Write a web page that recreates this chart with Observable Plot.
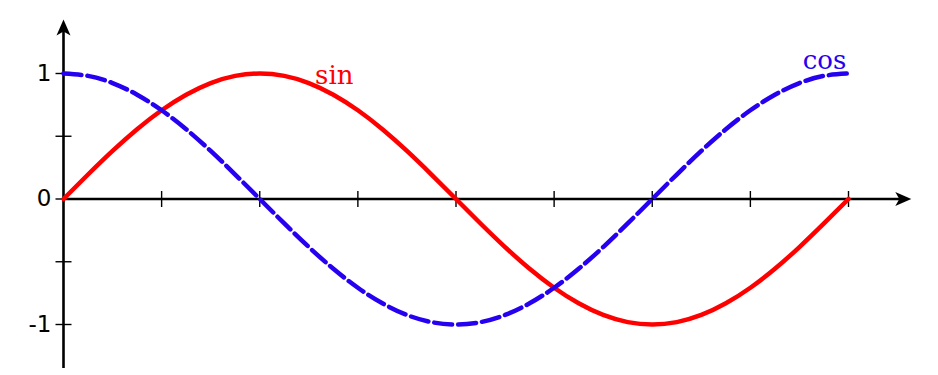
<!DOCTYPE html>
<html>
<head>
<meta charset="utf-8">
<script src="https://cdn.jsdelivr.net/npm/d3@7"></script>
<script src="https://cdn.jsdelivr.net/npm/@observablehq/plot@0.6"></script>
<style>
  html, body { margin: 0; padding: 0; background: #fff; }
</style>
</head>
<body>
<div id="chart"></div>
<script>
// x in units of quarter periods (π/4), sampled every π/16
const xs = [0,0.25,0.5,0.75,1,1.25,1.5,1.75,2,2.25,2.5,2.75,3,3.25,3.5,3.75,4,
            4.25,4.5,4.75,5,5.25,5.5,5.75,6,6.25,6.5,6.75,7,7.25,7.5,7.75,8];
const sinValues = [0,0.195,0.383,0.556,0.707,0.831,0.924,0.981,1,0.981,0.924,0.831,0.707,0.556,0.383,0.195,0,
                   -0.195,-0.383,-0.556,-0.707,-0.831,-0.924,-0.981,-1,-0.981,-0.924,-0.831,-0.707,-0.556,-0.383,-0.195,0];
const cosValues = [1,0.981,0.924,0.831,0.707,0.556,0.383,0.195,0,-0.195,-0.383,-0.556,-0.707,-0.831,-0.924,-0.981,-1,
                   -0.981,-0.924,-0.831,-0.707,-0.556,-0.383,-0.195,0,0.195,0.383,0.556,0.707,0.831,0.924,0.981,1];
const xTicks = [1,2,3,4,5,6,7,8];
const yTicks = [-1,-0.5,0,0.5,1];
const yLabels = [-1,0,1];
const yLabelText = ["-1","0","1"];
const seriesLabels = ["sin","cos"];

const sinData = xs.map((x, i) => ({x, y: sinValues[i]}));
const cosData = xs.map((x, i) => ({x, y: cosValues[i]}));

// custom symbols
const stealthUp = { draw(ctx) { ctx.moveTo(0,0); ctx.lineTo(7,16); ctx.lineTo(0,12); ctx.lineTo(-7,16); ctx.closePath(); } };
const vTick = { draw(ctx) { ctx.moveTo(0,-8); ctx.lineTo(0,8); } };
const hTick = { draw(ctx) { ctx.moveTo(-8,0); ctx.lineTo(8,0); } };

const xAxisEnd = 8.64, yAxisTop = 1.43, yAxisBottom = -1.35;

const chart = Plot.plot({
  width: 938,
  height: 375,
  margin: 0,
  style: {fontSize: "24px"},
  x: {domain: [0, 8], range: [63, 848], axis: null},
  y: {domain: [-1, 1], range: [324, 73], axis: null},
  marks: [
    Plot.ruleY([0], {x1: 0, x2: xAxisEnd - 0.06, stroke: "black", strokeWidth: 2.6}),
    Plot.ruleX([0], {y1: yAxisBottom, y2: yAxisTop - 0.04, stroke: "black", strokeWidth: 2.6}),
    Plot.dot([0], {x: xAxisEnd, y: 0, symbol: stealthUp, rotate: 90, fill: "black", stroke: "none"}),
    Plot.dot([0], {x: 0, y: yAxisTop, symbol: stealthUp, fill: "black", stroke: "none"}),
    Plot.dot(xTicks, {x: d => d, y: 0, symbol: vTick, stroke: "black", strokeWidth: 1.4, fill: "none"}),
    Plot.dot(yTicks, {x: 0, y: d => d, symbol: hTick, stroke: "black", strokeWidth: 1.4, fill: "none"}),
    Plot.text(yLabels, {x: 0, y: d => d, text: (d, i) => yLabelText[i], dx: -12, textAnchor: "end",
      fontSize: 23, fontFamily: "DejaVu Sans", fill: "black"}),
    Plot.line(sinData, {x: "x", y: "y", stroke: "#ff0000", strokeWidth: 4.5, curve: "natural"}),
    Plot.line(cosData, {x: "x", y: "y", stroke: "#2600f0", strokeWidth: 4.5, strokeDasharray: "18,6", curve: "natural"}),
    Plot.text([seriesLabels[0]], {x: 2.76, y: 0.98, text: d => d, fill: "#ff0000", fontSize: 26, fontFamily: "DejaVu Serif"}),
    Plot.text([seriesLabels[1]], {x: 7.755, y: 1.105, text: d => d, fill: "#2600f0", fontSize: 26, fontFamily: "DejaVu Serif"})
  ]
});
document.getElementById("chart").appendChild(chart);
</script>
</body>
</html>
